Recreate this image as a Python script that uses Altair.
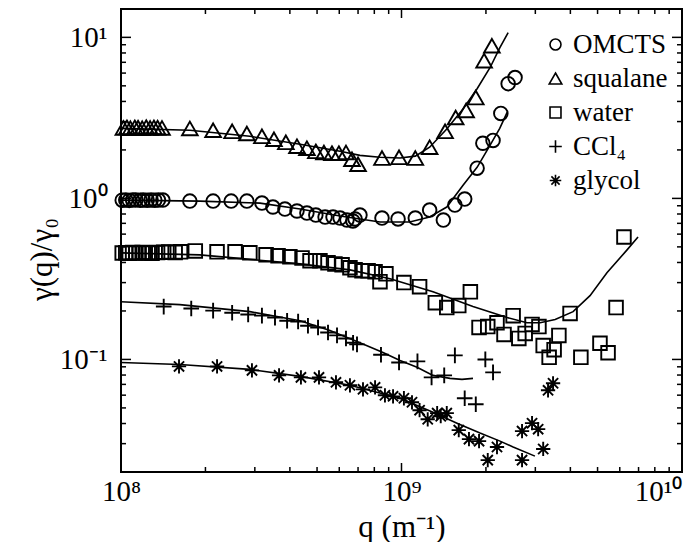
import math
import altair as alt
import pandas as pd

# ---------------- data (q in units of 1e8 m^-1) ----------------
series_names = ["OMCTS", "squalane", "water", "CCl₄", "glycol"]

omcts_q = [1.01, 1.04, 1.07, 1.10, 1.13, 1.17, 1.20, 1.24, 1.28, 1.32, 1.36, 1.41,
           1.76, 2.13, 2.47, 2.81, 3.18, 3.48, 3.84, 4.24, 4.60, 4.95, 5.34, 5.70, 6.04,
           6.39, 6.71, 6.83, 7.11, 8.52, 9.72, 11.2, 12.6, 14.1, 15.5, 16.8, 18.6, 19.5,
           21.2, 22.6, 24.0, 25.4]
omcts_y = [0.975, 0.978, 0.972, 0.976, 0.979, 0.974, 0.977, 0.973, 0.978, 0.975, 0.977, 0.976,
           0.962, 0.962, 0.962, 0.962, 0.935, 0.884, 0.859, 0.835, 0.811, 0.788, 0.766, 0.766, 0.755,
           0.734, 0.724, 0.745, 0.788, 0.755, 0.745, 0.755, 0.846, 0.734, 0.909, 0.990, 1.54, 2.20,
           2.29, 3.37, 5.16, 5.63]

squal_q = [1.02, 1.05, 1.08, 1.12, 1.15, 1.19, 1.23, 1.27, 1.31, 1.35, 1.40,
           1.76, 2.13, 2.49, 2.81, 3.18, 3.51, 3.87, 4.24, 4.60, 4.95, 5.29, 5.65, 5.98, 6.34,
           6.66, 7.00, 8.52, 9.80, 11.2, 12.6, 14.3, 15.6, 17.0, 18.4, 19.7, 21.0]
squal_y = [2.74, 2.76, 2.73, 2.76, 2.75, 2.73, 2.77, 2.74, 2.76, 2.75, 2.74,
           2.72, 2.65, 2.61, 2.53, 2.43, 2.33, 2.23, 2.11, 2.05, 1.96, 1.93, 1.91, 1.91, 1.93,
           1.75, 1.63, 1.78, 1.80, 1.78, 2.08, 2.61, 3.18, 3.52, 4.23, 7.17, 8.87]

water_q = [1.01, 1.04, 1.07, 1.10, 1.13, 1.16, 1.19, 1.22, 1.25, 1.29, 1.35, 1.42, 1.48, 1.56, 1.63,
           1.84, 2.20, 2.55, 2.88, 3.29, 3.63, 4.00, 4.42, 4.72, 5.12, 5.47, 5.79, 6.14, 6.55, 6.83,
           7.23, 7.60, 8.05, 8.38, 8.80, 10.2, 11.6, 13.2, 14.5, 16.0, 17.6, 18.9, 20.3, 21.9, 23.2,
           25.0, 26.2, 27.6, 29.2, 30.9, 32.0, 33.6, 35.0, 36.4, 39.9, 43.6, 51.0, 54.5, 58.2, 62.1]
water_y = [0.458, 0.460, 0.457, 0.461, 0.459, 0.458, 0.462, 0.459, 0.460, 0.457, 0.461, 0.463, 0.465, 0.462, 0.466,
           0.472, 0.466, 0.466, 0.459, 0.446, 0.440, 0.434, 0.427, 0.410, 0.410, 0.398, 0.392, 0.387, 0.371, 0.360,
           0.355, 0.355, 0.350, 0.304, 0.340, 0.300, 0.283, 0.225, 0.210, 0.216, 0.263, 0.158, 0.160, 0.169, 0.143,
           0.187, 0.135, 0.145, 0.165, 0.160, 0.122, 0.103, 0.115, 0.141, 0.193, 0.103, 0.126, 0.110, 0.210, 0.576]

ccl4_q = [1.42, 1.78, 2.13, 2.49, 2.84, 3.18, 3.54, 3.91, 4.28, 4.64, 5.04, 5.47, 5.89, 6.34, 6.72, 6.94,
          8.45, 9.80, 11.4, 12.8, 14.2, 15.5, 16.8, 18.4, 19.9, 21.2]
ccl4_y = [0.213, 0.207, 0.201, 0.195, 0.190, 0.187, 0.182, 0.174, 0.172, 0.162, 0.158, 0.147, 0.141, 0.135,
          0.127, 0.124, 0.107, 0.0958, 0.0972, 0.0774, 0.0796, 0.106, 0.0574, 0.0527, 0.100, 0.0831]

glycol_q = [1.61, 2.20, 2.93, 3.66, 4.38, 5.08, 5.84, 6.55, 7.29, 8.05, 8.73, 9.33, 10.2, 10.9, 11.6, 12.4,
            13.4, 13.8, 14.5, 16.0, 17.4, 18.9, 20.3, 21.9, 26.9, 26.9, 29.2, 30.7, 32.0, 33.3, 34.7]
glycol_y = [0.0905, 0.0905, 0.0855, 0.0796, 0.0774, 0.0774, 0.0721, 0.0691, 0.0652, 0.0671, 0.0599, 0.0590,
            0.0574, 0.0542, 0.0484, 0.0425, 0.0464, 0.0444, 0.0464, 0.0364, 0.0320, 0.0311, 0.0237, 0.0286,
            0.0359, 0.0237, 0.0402, 0.0369, 0.0278, 0.0643, 0.0711]

# fitted curves
fit_omcts_q = [1.0, 1.91, 3.13, 4.35, 6.04, 8.38, 10.7, 12.6, 14.5, 16.6, 18.6, 20.7, 22.4, 23.8]
fit_omcts_y = [0.976, 0.962, 0.935, 0.859, 0.777, 0.714, 0.714, 0.766, 0.884, 1.21, 1.56, 2.14, 2.72, 3.42]
fit_squal_q = [1.0, 1.76, 2.88, 4.35, 6.04, 7.11, 8.38, 9.88, 11.2, 12.6, 14.5, 16.6, 18.6, 20.7, 22.4, 24.0]
fit_squal_y = [2.72, 2.65, 2.43, 2.17, 1.96, 1.85, 1.80, 1.78, 1.83, 2.08, 2.70, 3.60, 4.80, 6.50, 8.60, 10.7]
fit_water_q = [1.0, 1.91, 4.35, 6.55, 9.10, 12.95, 17.98, 23.8, 28.0, 31.2, 35.3, 40.9, 47.0, 54.0, 63.7, 69.7]
fit_water_y = [0.459, 0.446, 0.392, 0.360, 0.317, 0.263, 0.213, 0.182, 0.169, 0.169, 0.177, 0.198, 0.249, 0.345, 0.479, 0.576]
fit_ccl4_q = [1.0, 1.62, 2.88, 4.35, 5.56, 7.11, 8.59, 9.88, 11.36, 12.95, 14.89, 16.43, 17.98]
fit_ccl4_y = [0.228, 0.219, 0.198, 0.174, 0.151, 0.127, 0.1105, 0.0986, 0.0893, 0.0796, 0.0763, 0.0752, 0.0763]
fit_glycol_q = [1.0, 1.62, 2.88, 4.35, 6.55, 9.88, 12.95, 15.77, 19.05, 22.45, 25.0, 29.9]
fit_glycol_y = [0.0958, 0.0931, 0.0867, 0.0785, 0.0691, 0.0574, 0.0470, 0.0402, 0.0349, 0.0311, 0.0286, 0.0251]

# axis ticks
x_major = [1e8, 1e9, 1e10]
x_major_labels = ["10⁸", "10⁹", "10¹⁰"]
x_minor = [k * 10 ** e for e in (8, 9) for k in range(2, 10)]
y_major = [0.1, 1.0, 10.0]
y_major_labels = ["10⁻¹", "10⁰", "10¹"]
y_minor = [k * 10 ** e for e in (-2, -1, 0, 1) for k in range(2, 10) if 0.02 <= k * 10 ** e <= 15]

# ---------------- tables ----------------
pts = []
for name, qs, ys in zip(series_names,
                        [omcts_q, squal_q, water_q, ccl4_q, glycol_q],
                        [omcts_y, squal_y, water_y, ccl4_y, glycol_y]):
    for q, y in zip(qs, ys):
        pts.append({"series": name, "q": q * 1e8, "g": y})
points = pd.DataFrame(pts)

fits = []
for name, qs, ys in zip(series_names,
                        [fit_omcts_q, fit_squal_q, fit_water_q, fit_ccl4_q, fit_glycol_q],
                        [fit_omcts_y, fit_squal_y, fit_water_y, fit_ccl4_y, fit_glycol_y]):
    for q, y in zip(qs, ys):
        fits.append({"series": name, "q": q * 1e8, "g": y})
fitdf = pd.DataFrame(fits)

W, H = 561, 463
FONT = "Liberation Serif, Times New Roman, Times, serif"
xscale = alt.Scale(type="log", domain=[1e8, 1e10], nice=False)
yscale = alt.Scale(type="log", domain=[0.02, 15], nice=False)


def label_expr(vals, labels):
    expr = "''"
    for v, l in reversed(list(zip(vals, labels))):
        expr = f"abs(log(datum.value)/LN10 - ({math.log10(v)})) < 0.01 ? '{l}' : ({expr})"
    return expr


x_axis = alt.Axis(values=x_major, labelExpr=label_expr(x_major, x_major_labels),
                  title="q  (m⁻¹)", ticks=False, domain=False, grid=False,
                  labelFont=FONT, labelFontSize=29, labelColor="black", labelPadding=5,
                  labelFlush=False, labelBound=False,
                  labelAlign={"condition": {"test": f"datum.value > {x_major[-1] / 2}", "value": "right"},
                              "value": "center"},
                  titleFont=FONT, titleFontSize=31, titleFontWeight="normal",
                  titleColor="black", titlePadding=6)
y_axis = alt.Axis(values=y_major, labelExpr=label_expr(y_major, y_major_labels),
                  title="γ(q)/γ₀", ticks=False, domain=False, grid=False,
                  labelFont=FONT, labelFontSize=29, labelColor="black", labelPadding=14,
                  labelFlush=False,
                  titleFont=FONT, titleFontSize=31, titleFontWeight="normal",
                  titleColor="black", titleX=-70, titleY=250, titleBaseline="alphabetic")

CIRCLE = "circle"
TRI = "M0,-1.0L1.15,1.0L-1.15,1.0Z"
SQUARE = "square"
PLUS = "M-1.15,0H1.15M0,-1.15V1.15"
AST = "M-1.05,0H1.05M0,-1.05V1.05M-0.75,-0.75L0.75,0.75M-0.75,0.75L0.75,-0.75"
shapes = [CIRCLE, TRI, SQUARE, PLUS, AST]

point_layer = alt.Chart(points).mark_point(
    filled=False, color="black", strokeWidth=1.9, opacity=1, size=185
).encode(
    x=alt.X("q:Q", scale=xscale, axis=x_axis),
    y=alt.Y("g:Q", scale=yscale, axis=y_axis),
    shape=alt.Shape("series:N", scale=alt.Scale(domain=series_names, range=shapes),
                    legend=alt.Legend(title=None, orient="none", legendX=421, legendY=22,
                                      labelFont=FONT, labelFontSize=27, labelColor="black",
                                      symbolSize=120, symbolStrokeWidth=1.6,
                                      symbolStrokeColor="black", symbolFillColor="transparent",
                                      rowPadding=6, labelOffset=4, padding=0)),
)

line_layer = alt.Chart(fitdf).mark_line(color="black", strokeWidth=1.6).encode(
    x=alt.X("q:Q", scale=xscale, axis=x_axis),
    y=alt.Y("g:Q", scale=yscale, axis=y_axis),
    detail="series:N",
    order=alt.Order("q:Q"),
)


def ticks(vals, axis, side, length):
    if axis == "x":
        df = pd.DataFrame({"q": vals})
        base = alt.Chart(df).mark_rule(color="black", strokeWidth=1.5)
        f = alt.X("q:Q", scale=xscale, axis=x_axis)
        if side == "bottom":
            return base.encode(x=f, y=alt.value(H), y2=alt.value(H - length))
        return base.encode(x=f, y=alt.value(0), y2=alt.value(length))
    df = pd.DataFrame({"g": vals})
    base = alt.Chart(df).mark_rule(color="black", strokeWidth=1.5)
    f = alt.Y("g:Q", scale=yscale, axis=y_axis)
    if side == "left":
        return base.encode(y=f, x=alt.value(0), x2=alt.value(length))
    return base.encode(y=f, x=alt.value(W), x2=alt.value(W - length))


tick_layers = [
    ticks(x_major, "x", "bottom", 9), ticks(x_minor, "x", "bottom", 5),
    ticks(x_major, "x", "top", 9), ticks(x_minor, "x", "top", 5),
    ticks(y_major, "y", "left", 10), ticks(y_minor, "y", "left", 5),
    ticks(y_major, "y", "right", 10), ticks(y_minor, "y", "right", 5),
]

chart = alt.layer(line_layer, point_layer, *tick_layers).properties(
    width=W, height=H,
    autosize=alt.AutoSizeParams(type="none"),
    padding={"left": 113, "top": 1, "right": 9, "bottom": 70},
).configure(font=FONT).configure_view(stroke="black", strokeWidth=2)

chart.save("out.html", embed_options={"renderer": "svg", "actions": False})
